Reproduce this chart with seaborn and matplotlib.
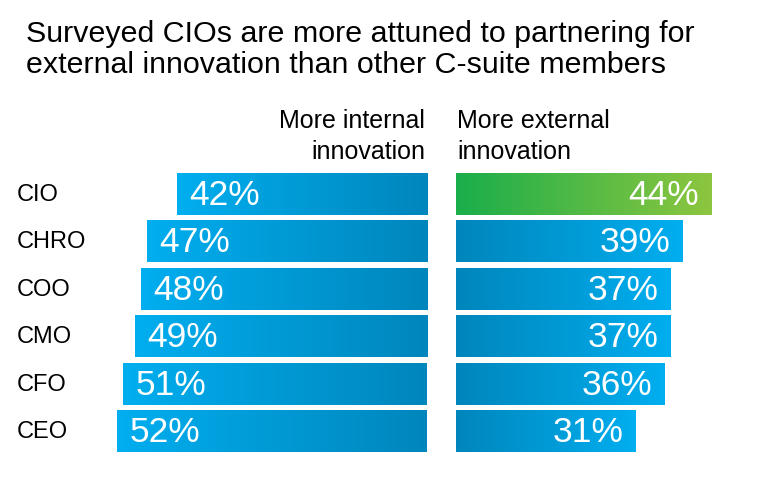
import numpy as np
import pandas as pd
import seaborn as sns
import matplotlib.pyplot as plt
from matplotlib.colors import LinearSegmentedColormap

# datos del grafico
roles = ["CIO", "CHRO", "COO", "CMO", "CFO", "CEO"]
interna = [42, 47, 48, 49, 51, 52]
externa = [44, 39, 37, 37, 36, 31]

titulo = "Surveyed CIOs are more attuned to partnering for\nexternal innovation than other C-suite members"

df = pd.DataFrame({"rol": roles, "interna": interna, "externa": externa})

sns.set_theme(style="white")
plt.rcParams["font.family"] = ["Liberation Sans", "DejaVu Sans"]

azul = LinearSegmentedColormap.from_list("azul", ["#0086BC", "#00AEEF"])
verde = LinearSegmentedColormap.from_list("verde", ["#1AAE4B", "#8DC63F"])

W, H = 768, 501
fig = plt.figure(figsize=(W / 100, H / 100), dpi=100)

# posiciones en pixeles
y_top, y_bot = 170.3, 454.7
bottom = 1 - y_bot / H
alto = (y_bot - y_top) / H
px_izq = 5.96
px_der = 5.8
borde_izq = 427
inicio_der = 456

ax_izq = fig.add_axes([0, bottom, borde_izq / W, alto])
ax_der = fig.add_axes([inicio_der / W, bottom, (W - inicio_der) / W, alto])

sns.barplot(data=df, x="interna", y="rol", ax=ax_izq, color="#00AEEF", width=0.886, orient="h")
sns.barplot(data=df, x="externa", y="rol", ax=ax_der, color="#00AEEF", width=0.886, orient="h")

grad = np.linspace(0, 1, 256).reshape(1, -1)

for ax, valores, lado in [(ax_izq, interna, "izq"), (ax_der, externa, "der")]:
    for i, (p, v) in enumerate(zip(ax.patches, valores)):
        y0 = p.get_y()
        h = p.get_height()
        cmap = verde if (lado == "der" and i == 0) else azul
        p.set_facecolor("none")
        p.set_edgecolor("none")
        im = ax.imshow(grad, cmap=cmap, aspect="auto", extent=[0, v, y0 + h, y0],
                       zorder=2, interpolation="bicubic")
        im.set_clip_path(p)
        ha = "left" if lado == "izq" else "right"
        ax.text(v - 2.1, i + 0.03, f"{v}%", color="white", fontsize=25.5, ha=ha, va="center", zorder=3)
    ax.set_ylim(5.5, -0.5)
    ax.axis("off")

ax_izq.set_xlim(borde_izq / px_izq, 0)
ax_der.set_xlim(0, (W - inicio_der) / px_der)

for i, r in enumerate(roles):
    fig.text(17 / W, 1 - (195 + i * 47.4) / H, r, fontsize=17, ha="left", va="center", color="black")

fig.text(26 / W, 1 - 20 / H, titulo, fontsize=21.9, ha="left", va="top", linespacing=1.14,
         color="black")
fig.text(425 / W, 1 - 109 / H, "More internal\ninnovation", fontsize=18, ha="right", va="top",
         multialignment="right", linespacing=1.38, color="black")
fig.text(457 / W, 1 - 109 / H, "More external\ninnovation", fontsize=18, ha="left", va="top",
         multialignment="left", linespacing=1.38, color="black")

fig.savefig("out.png", dpi=100)
